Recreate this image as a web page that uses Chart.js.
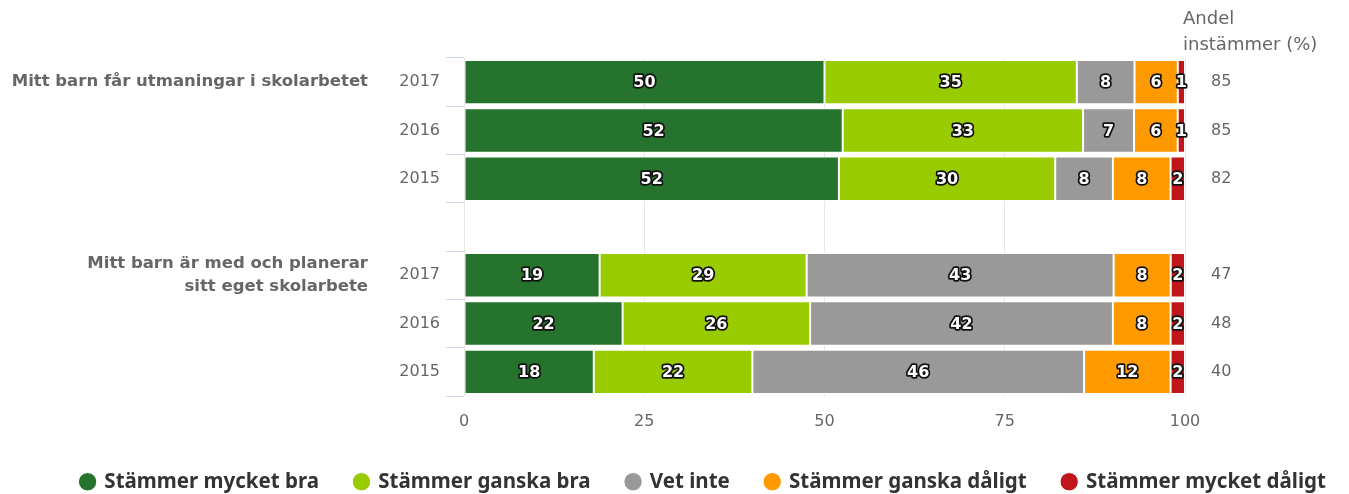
<!DOCTYPE html>
<html>
<head>
<meta charset="utf-8">
<script src="https://cdn.jsdelivr.net/npm/chart.js@4.4.1/dist/chart.umd.min.js"></script>
<style>
    html, body { margin: 0; padding: 0; background: #fff; }
    #wrap { width: 1349px; height: 494px; }
</style>
</head>
<body>
<div id="wrap"><canvas id="myChart" width="1349" height="494"></canvas></div>
<script>
// rows: 3 years per question, an empty row between the groups
const years = ['2017', '2016', '2015', '', '2017', '2016', '2015'];
const questions = ['Mitt barn får utmaningar i skolarbetet', 'Mitt barn är med och planerar\nsitt eget skolarbete'];
const questionRows = [0, 4];

const seriesNames = ['Stämmer mycket bra', 'Stämmer ganska bra', 'Vet inte', 'Stämmer ganska dåligt', 'Stämmer mycket dåligt'];
const mycketBra    = [50, 52, 52, null, 19, 22, 18];
const ganskaBra    = [35, 33, 30, null, 29, 26, 22];
const vetInte      = [8, 7, 8, null, 43, 42, 46];
const ganskaDaligt = [6, 6, 8, null, 8, 8, 12];
const mycketDaligt = [1, 1, 2, null, 2, 2, 2];
const andelInstammer = ['85', '85', '82', '', '47', '48', '40'];

const seriesColors = ['#25732d', '#99cc00', '#999999', '#ff9900', '#c0161b'];
const rawSeries = [mycketBra, ganskaBra, vetInte, ganskaDaligt, mycketDaligt];

// percent stacking, like the original
const rowTotals = years.map((_, i) => rawSeries.reduce((s, arr) => s + (arr[i] || 0), 0));
const datasets = rawSeries.map((arr, k) => ({
    label: seriesNames[k],
    data: arr.map((v, i) => v === null ? null : v / rowTotals[i] * 100),
    raw: arr,
    backgroundColor: seriesColors[k],
    borderColor: '#ffffff',
    borderWidth: 1,
    borderSkipped: false,
    barPercentage: 0.92,
    categoryPercentage: 1.0
}));

const PLOT_LEFT = 464;
const PLOT_BOTTOM = 396;
const PAD_BOTTOM = -8;
const LEGEND_SHIFT = 29;

// value labels inside the bars: white with dark outline
const barLabels = {
    id: 'barLabels',
    afterDatasetsDraw(chart) {
        const ctx = chart.ctx;
        ctx.save();
        ctx.font = 'bold 16px "DejaVu Sans"';
        ctx.textAlign = 'center';
        ctx.textBaseline = 'middle';
        ctx.lineJoin = 'round';
        chart.data.datasets.forEach((ds, di) => {
            chart.getDatasetMeta(di).data.forEach((bar, i) => {
                const v = ds.raw[i];
                if (v === null || v === undefined) return;
                const p = bar.getCenterPoint();
                ctx.lineWidth = 3.5;
                ctx.strokeStyle = '#111';
                ctx.strokeText(String(v), p.x, p.y + 1);
                ctx.fillStyle = '#fff';
                ctx.fillText(String(v), p.x, p.y + 1);
            });
        });
        ctx.restore();
    }
};

// question texts left of the years, header on the right
const sideTexts = {
    id: 'sideTexts',
    afterLayout(chart) {
        // the original legend sits a little right of centre
        if (chart.legend) {
            chart.legend.left += LEGEND_SHIFT;
            chart.legend.right += LEGEND_SHIFT;
        }
    },
    afterDraw(chart) {
        const ctx = chart.ctx;
        const y = chart.scales.y;
        ctx.save();
        ctx.font = 'bold 16.5px "DejaVu Sans"';
        ctx.fillStyle = '#666';
        ctx.textAlign = 'right';
        ctx.textBaseline = 'middle';
        questions.forEach((q, qi) => {
            const lines = q.split('\n');
            const cy = y.getPixelForValue(questionRows[qi]);
            const lh = 23;
            lines.forEach((ln, li) => {
                ctx.fillText(ln, 368, cy + (li - (lines.length - 1) / 2) * lh);
            });
        });
        ctx.font = '18px "DejaVu Sans"';
        ctx.textAlign = 'left';
        ctx.fillText('Andel', 1183, 19);
        ctx.fillText('instämmer (%)', 1183, 45);
        ctx.restore();
    }
};

new Chart(document.getElementById('myChart'), {
    type: 'bar',
    data: { labels: years, datasets: datasets },
    options: {
        indexAxis: 'y',
        responsive: false,
        animation: false,
        layout: { padding: { top: 58, bottom: PAD_BOTTOM, left: 0, right: 0 } },
        scales: {
            x: {
                stacked: true,
                min: 0,
                max: 100,
                ticks: { stepSize: 25, color: '#666', font: { family: 'DejaVu Sans', size: 16 }, padding: 16 },
                grid: { color: '#e6e6e6', drawTicks: false },
                border: { display: false },
                afterFit(scale) {
                    const lh = scale.chart.legend ? scale.chart.legend.height : 0;
                    scale.height = 494 - PLOT_BOTTOM - lh - PAD_BOTTOM;
                }
            },
            y: {
                stacked: true,
                ticks: { color: '#666', font: { family: 'DejaVu Sans', size: 16 }, padding: 6 },
                grid: { drawOnChartArea: false, tickLength: 18, color: '#ccd6eb', offset: true },
                border: { display: false },
                afterFit(scale) { scale.width = PLOT_LEFT; }
            },
            y2: {
                type: 'category',
                position: 'right',
                labels: andelInstammer,
                offset: true,
                ticks: { color: '#666', font: { family: 'DejaVu Sans', size: 16 }, padding: 26 },
                grid: { display: false, drawTicks: false },
                border: { display: false },
                afterFit(scale) { scale.width = 1349 - 1185; }
            }
        },
        plugins: {
            tooltip: { enabled: false },
            legend: {
                position: 'bottom',
                labels: {
                    usePointStyle: true,
                    pointStyle: 'circle',
                    boxWidth: 13,
                    boxHeight: 13,
                    padding: 36,
                    color: '#333',
                    font: { family: 'Noto Sans', size: 20.5, weight: 'bold' }
                }
            }
        }
    },
    plugins: [barLabels, sideTexts]
});
</script>
</body>
</html>
